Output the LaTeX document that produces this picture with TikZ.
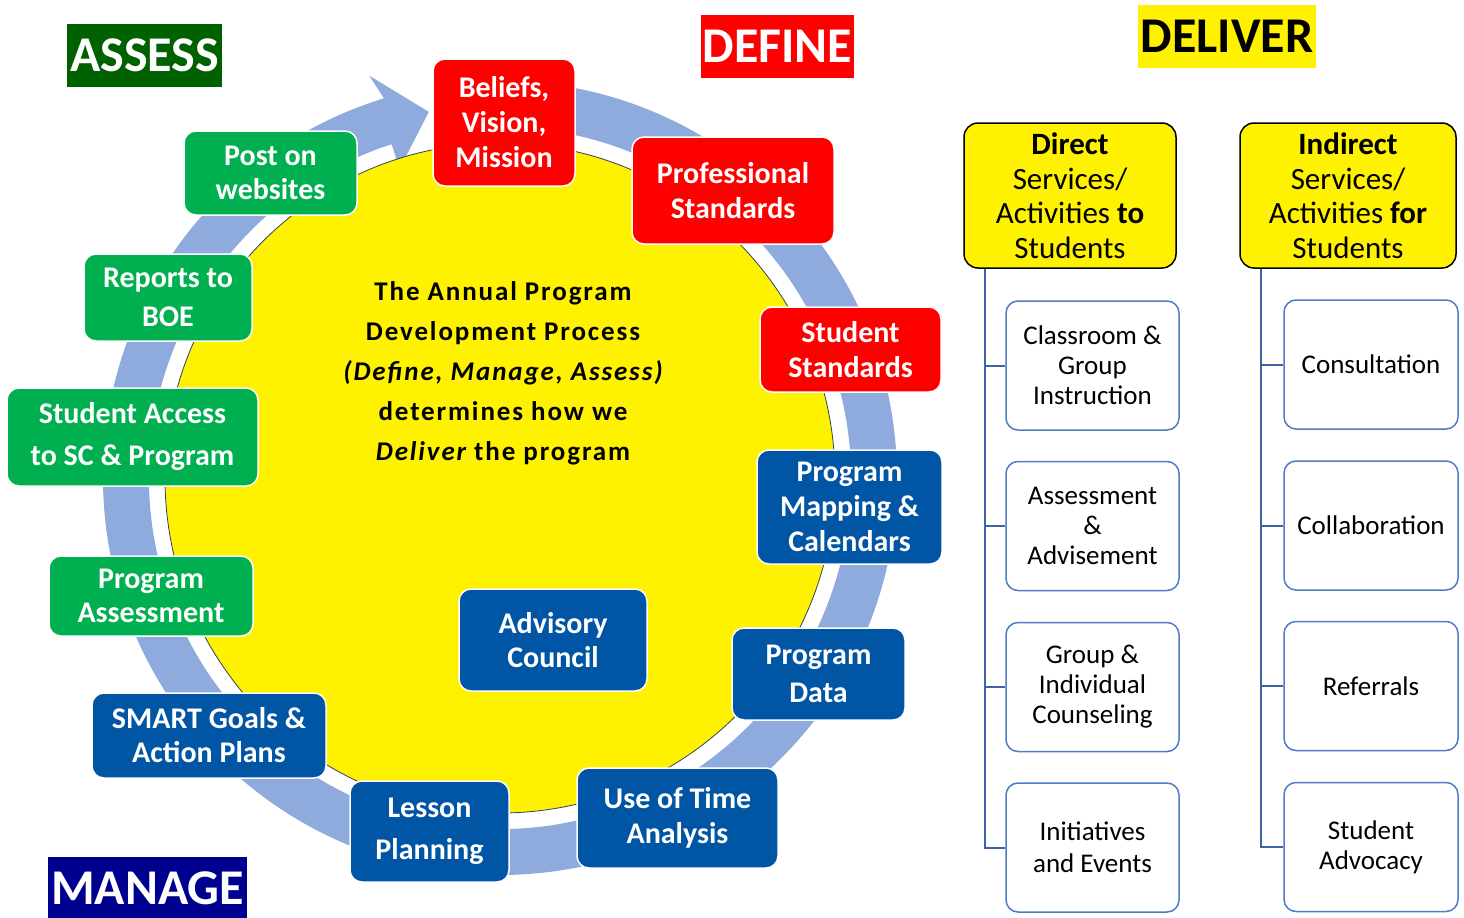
\documentclass[tikz,border=0pt]{standalone}
\usepackage{fontspec}
\setmainfont{Carlito}
\newfontfamily\spacedfont[LetterSpace=7]{Carlito}

\definecolor{ringblue}{HTML}{8FAADC}
\definecolor{boxgreen}{HTML}{00B050}
\definecolor{boxred}{HTML}{FF0000}
\definecolor{boxblue}{HTML}{0055A5}
\definecolor{assessgreen}{HTML}{006100}
\definecolor{managenavy}{HTML}{00008E}
\definecolor{itemblue}{HTML}{4F7BC8}
\definecolor{treeblue}{HTML}{3D63A8}
\definecolor{rimline}{HTML}{2F3F5F}

\tikzset{
  cyclebox/.style={rectangle, rounded corners=12pt, draw=white, line width=1.5pt,
    text=white, align=center, inner sep=0pt, font=\bfseries\fontsize{30}{35}\selectfont},
  greenbox/.style={cyclebox, fill=boxgreen},
  redbox/.style={cyclebox, fill=boxred},
  bluebox/.style={cyclebox, fill=boxblue},
  lskip/.style={font=\bfseries\fontsize{30}{#1}\selectfont},
  phase/.style={rectangle, inner sep=0pt, font=\bfseries\fontsize{50}{50}\selectfont},
  headbox/.style={rectangle, rounded corners=14pt, draw=black, line width=1.5pt, fill=yellow,
    align=center, inner sep=0pt, minimum height=145pt, font=\fontsize{31}{34.5}\selectfont},
  itembox/.style={rectangle, rounded corners=12pt, draw=itemblue, line width=1.5pt, fill=white,
    align=center, inner sep=0pt, minimum width=173pt, minimum height=129pt,
    font=\fontsize{27}{30}\selectfont},
  tree/.style={draw=treeblue, line width=2pt}
}

\begin{document}
\begin{tikzpicture}[x=1pt, y=-1pt]
\useasboundingbox (0,0) rectangle (1464,918);

% ring arrow round the circle
\begin{scope}[shift={(500,478)}]
\fill[ringblue] (-92:397) arc[start angle=-92, end angle=253, radius=397]
  -- (252:423) -- (259:373) -- (252:325) -- (252:351)
  arc[start angle=252, end angle=-92, radius=351] -- cycle;
\end{scope}

% yellow circle and its text
\draw[fill=yellow, draw=rimline, line width=0.8pt] (500,478) circle[radius=335];
\node[align=center, font=\spacedfont\bfseries\fontsize{27}{40}\selectfont] (process) at (503,373)
  {The Annual Program\\Development Process\\{\itshape (Define, Manage, Assess)}\\determines how we\\{\itshape Deliver} the program};

% phase labels
\node[phase, fill=assessgreen, text=white, minimum width=155pt, minimum height=63pt] (assess) at (144.5,55.5) {ASSESS};
\node[phase, fill=boxred, text=white, minimum width=153pt, minimum height=63pt] (define) at (777.5,46.5) {DEFINE};
\node[phase, fill=yellow, text=black, minimum width=178pt, minimum height=63pt] (deliver) at (1227,36.5) {DELIVER};
\node[phase, fill=managenavy, text=white, minimum width=199pt, minimum height=62pt] (manage) at (147.5,888) {MANAGE};

% define
\node[redbox, minimum width=142pt, minimum height=127pt] (beliefs) at (504,122.5) {Beliefs,\\Vision,\\Mission};
\node[redbox, minimum width=202pt, minimum height=107pt] (profstd) at (733,190.5) {Professional\\Standards};
\node[redbox, minimum width=181pt, minimum height=85pt] (studstd) at (850.5,349.5) {Student\\Standards};

% manage
\node[bluebox, minimum width=185pt, minimum height=114pt] (mapping) at (849.5,507) {Program\\Mapping \&\\Calendars};
\node[bluebox, lskip=38, minimum width=173pt, minimum height=92pt] (progdata) at (818.5,674) {Program\\Data};
\node[bluebox, minimum width=201pt, minimum height=100pt] (timeuse) at (677.5,818) {Use of Time\\Analysis};
\node[bluebox, lskip=42, minimum width=159pt, minimum height=101pt] (lesson) at (429.5,831.5) {Lesson\\Planning};
\node[bluebox, lskip=34, minimum width=234pt, minimum height=85pt] (smart) at (209,735.5) {SMART Goals \&\\Action Plans};
\node[bluebox, lskip=34, minimum width=188pt, minimum height=102pt] (advisory) at (553,640) {Advisory\\Council};

% assess
\node[greenbox, lskip=34, minimum width=204pt, minimum height=80pt] (progassess) at (151,596) {Program\\Assessment};
\node[greenbox, lskip=42, minimum width=251pt, minimum height=98pt] (access) at (132.5,437) {Student Access\\to SC \& Program};
\node[greenbox, lskip=39, minimum width=168pt, minimum height=87pt] (boe) at (168,297.5) {Reports to\\BOE};
\node[greenbox, lskip=34, minimum width=173pt, minimum height=84pt] (websites) at (270.5,173) {Post on\\websites};

% deliver headers
\node[headbox, minimum width=212pt] (direct) at (1070,195.5) {\textbf{Direct}\\Services/\\Activities \textbf{to}\\Students};
\node[headbox, minimum width=216pt] (indirect) at (1348,195.5) {\textbf{Indirect}\\Services/\\Activities \textbf{for}\\Students};

% direct services
\node[itembox] (classroom) at (1092.5,365.5) {Classroom \&\\Group\\Instruction};
\node[itembox] (advise) at (1092.5,526) {Assessment\\\&\\Advisement};
\node[itembox] (counsel) at (1092.5,687) {Group \&\\Individual\\Counseling};
\node[itembox, font=\fontsize{27}{32}\selectfont] (events) at (1092.5,847.5) {Initiatives\\and Events};

% indirect services
\node[itembox, minimum width=174pt] (consult) at (1371,364.5) {Consultation};
\node[itembox, minimum width=174pt] (collab) at (1371,525.5) {Collaboration};
\node[itembox, minimum width=174pt] (referral) at (1371,686) {Referrals};
\node[itembox, minimum width=174pt] (advocacy) at (1371,847) {Student\\Advocacy};

% tree lines
\draw[tree] ([xshift=22pt]direct.south west) |- (classroom.west);
\draw[tree] ([xshift=22pt]direct.south west) |- (advise.west);
\draw[tree] ([xshift=22pt]direct.south west) |- (counsel.west);
\draw[tree] ([xshift=22pt]direct.south west) |- (events.west);
\draw[tree] ([xshift=22pt]indirect.south west) |- (consult.west);
\draw[tree] ([xshift=22pt]indirect.south west) |- (collab.west);
\draw[tree] ([xshift=22pt]indirect.south west) |- (referral.west);
\draw[tree] ([xshift=22pt]indirect.south west) |- (advocacy.west);
\end{tikzpicture}
\end{document}
